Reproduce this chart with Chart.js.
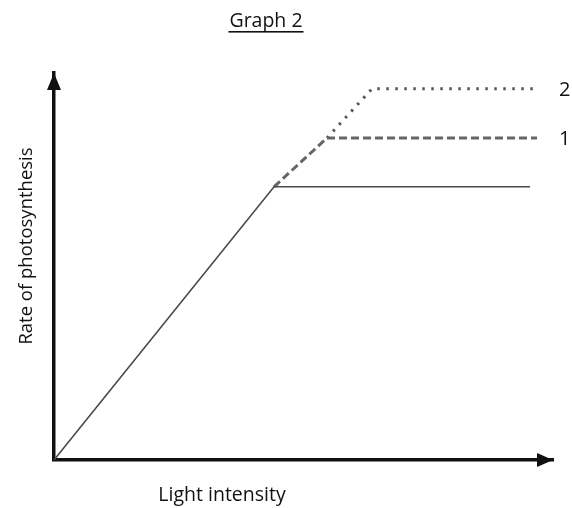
<!DOCTYPE html>
<html>
<head>
<meta charset="utf-8">
<script src="https://cdn.jsdelivr.net/npm/chart.js@4.4.1/dist/chart.umd.min.js"></script>
<style>
html,body{margin:0;padding:0;background:#fff;}
#wrap{width:572px;height:508px;position:relative;}
</style>
</head>
<body>
<div id="wrap"><canvas id="c" width="572" height="508"></canvas></div>
<script>
// ---- data (arbitrary units) ----
const titleText = "Graph 2";
const xAxisTitle = "Light intensity";
const yAxisTitle = "Rate of photosynthesis";
const seriesNames = ["base", "1", "2"];
const baseX = [0, 44.1, 95.4];
const baseY = [0, 70.6, 70.6];
const line1X = [44.1, 54.7, 96.8];
const line1Y = [70.6, 83.2, 83.2];
const line2X = [54.7, 63.7, 97.0];
const line2Y = [83.2, 95.9, 95.9];
const curveLabels = ["", "1", "2"];

const pts = (xs, ys) => xs.map((x, i) => ({x: x, y: ys[i]}));

const FONT = "'Open Sans', 'Liberation Sans', sans-serif";

const decor = {
  id: 'decor',
  afterDraw(chart) {
    const ctx = chart.ctx;
    const a = chart.chartArea;
    ctx.save();
    // arrowheads
    ctx.fillStyle = '#111';
    ctx.beginPath();
    ctx.moveTo(a.left, a.top);
    ctx.lineTo(a.left - 7, a.top + 17);
    ctx.lineTo(a.left + 7, a.top + 17);
    ctx.closePath();
    ctx.fill();
    ctx.beginPath();
    ctx.moveTo(a.right, a.bottom);
    ctx.lineTo(a.right - 16, a.bottom - 7);
    ctx.lineTo(a.right - 16, a.bottom + 7);
    ctx.closePath();
    ctx.fill();
    // texts
    ctx.fillStyle = '#111';
    ctx.font = "19.5px " + FONT;
    ctx.textAlign = 'center';
    ctx.textBaseline = 'alphabetic';
    ctx.fillText(xAxisTitle, 222, 501);
    ctx.save();
    ctx.font = "18.5px " + FONT;
    ctx.translate(32, 246);
    ctx.rotate(-Math.PI / 2);
    ctx.fillText(yAxisTitle, 0, 0);
    ctx.restore();
    // title underlined
    ctx.font = "19.5px " + FONT;
    ctx.fillText(titleText, 266, 27);
    const w = ctx.measureText(titleText).width;
    ctx.fillRect(266 - w / 2 - 1, 31, w + 2, 1.6);
    // curve labels
    ctx.font = "20px " + FONT;
    ctx.textAlign = 'left';
    ctx.textBaseline = 'middle';
    const ys = chart.scales.y;
    ctx.fillText(curveLabels[2], a.right + 6, ys.getPixelForValue(line2Y[2]) + 1);
    ctx.fillText(curveLabels[1], a.right + 6, ys.getPixelForValue(line1Y[2]) + 1);
    ctx.restore();
  }
};

new Chart(document.getElementById('c'), {
  type: 'line',
  data: {
    datasets: [
      {label: seriesNames[0], data: pts(baseX, baseY), borderColor: '#4a4a4a', borderWidth: 1.6, pointRadius: 0, tension: 0},
      {label: seriesNames[1], data: pts(line1X, line1Y), borderColor: '#666', borderWidth: 3, borderDash: [8, 4], pointRadius: 0, tension: 0},
      {label: seriesNames[2], data: pts(line2X, line2Y), borderColor: '#555', borderWidth: 3, borderDash: [2.5, 6.5], pointRadius: 0, tension: 0}
    ]
  },
  options: {
    responsive: false,
    animation: false,
    devicePixelRatio: 1,
    layout: {padding: {left: 54, right: 19, top: 73, bottom: 48}},
    plugins: {legend: {display: false}, tooltip: {enabled: false}, title: {display: false}},
    scales: {
      x: {
        type: 'linear', min: 0, max: 100,
        grid: {display: false},
        ticks: {display: false},
        border: {display: true, color: '#111', width: 3.5},
        afterFit: s => { s.height = 0; }
      },
      y: {
        type: 'linear', min: 0, max: 100,
        grid: {display: false},
        ticks: {display: false},
        border: {display: true, color: '#111', width: 3.5},
        afterFit: s => { s.width = 0; }
      }
    }
  },
  plugins: [decor]
});
</script>
</body>
</html>
